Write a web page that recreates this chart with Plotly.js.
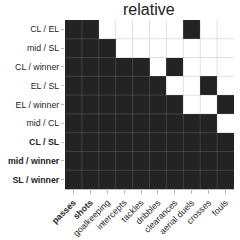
<!DOCTYPE html>
<html><head><meta charset="utf-8">
<script src="https://cdn.plot.ly/plotly-3.0.1.min.js"></script>
<style>html,body{margin:0;padding:0;background:#fff}</style>
</head><body><div id="chart" style="width:240px;height:240px"></div>
<script>
const columns = ["passes","shots","goalkeeping","intercepts","tackles","dribbles","clearances","aerial duels","crosses","fouls"];
const rows = ["CL / EL","mid / SL","CL / winner","EL / SL","EL / winner","mid / CL","CL / SL","mid / winner","SL / winner"];
const boldRows = ["CL / SL","mid / winner","SL / winner"];
const boldCols = ["passes","shots"];
const values = [
  [1,1,0,0,0,0,0,1,0,0],
  [1,1,1,0,0,0,0,0,0,0],
  [1,1,1,1,1,0,1,0,0,0],
  [1,1,1,1,1,1,0,0,1,0],
  [1,1,1,1,1,1,1,0,0,1],
  [1,1,1,1,1,1,1,1,1,0],
  [1,1,1,1,1,1,1,1,1,1],
  [1,1,1,1,1,1,1,1,1,1],
  [1,1,1,1,1,1,1,1,1,1]
];

const shapes = [];
const gl = {color:'rgba(145,145,145,0.27)', width:1};
for (let i = 1; i < columns.length; i++) {
  shapes.push({type:'line', xref:'x', yref:'paper', x0:i-0.5, x1:i-0.5, y0:0, y1:1, line:gl, layer:'above'});
}
for (let j = 1; j < rows.length; j++) {
  shapes.push({type:'line', xref:'paper', yref:'y', x0:0, x1:1, y0:j-0.5, y1:j-0.5, line:gl, layer:'above'});
}

const trace = {
  type:'heatmap', x: columns, y: rows, z: values,
  colorscale:[[0,'#ffffff'],[1,'#232323']], zmin:0, zmax:1, showscale:false,
  hoverinfo:'skip'
};

const tf = {family:'Liberation Sans, Arial, sans-serif', size:8.8, color:'#262626'};
const layout = {
  width:240, height:240,
  margin:{l:65, r:6, t:20, b:51},
  paper_bgcolor:'#fff', plot_bgcolor:'#fff',
  title:{text:'relative', font:{family:'Liberation Sans, Arial, sans-serif', size:16, color:'#222'}, x:0.62, xanchor:'center', y:0.985, yanchor:'top'},
  font:tf,
  xaxis:{type:'category', categoryorder:'array', categoryarray:columns,
    tickvals:columns, ticktext:columns.map(c => boldCols.includes(c) ? '<b>'+c+'</b>' : c),
    tickfont:tf,
    tickangle:-45, ticks:'outside', ticklen:4, tickcolor:'#bbb', showgrid:false,
    showline:true, linecolor:'#bbb', linewidth:1, zeroline:false, fixedrange:true},
  yaxis:{type:'category', categoryorder:'array', categoryarray:rows, autorange:'reversed',
    tickvals:rows, ticktext:rows.map(r => boldRows.includes(r) ? '<b>'+r+'</b>' : r),
    tickfont:tf,
    ticks:'outside', ticklen:3, tickcolor:'#bbb', showgrid:false, showline:false, zeroline:false, fixedrange:true},
  shapes: shapes
};
Plotly.newPlot('chart', [trace], layout, {displayModeBar:false, staticPlot:true});
</script></body></html>
